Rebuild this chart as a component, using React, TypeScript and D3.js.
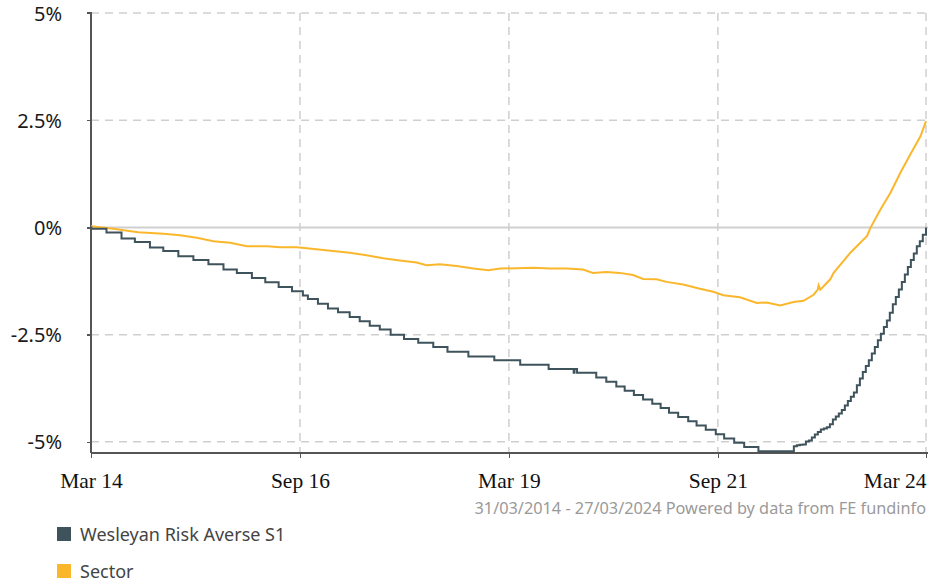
import React, { useEffect, useRef } from 'react';
import * as d3 from 'd3';

// Fund: step points [decimal year, % growth]
const FUND: [number, number][] = [
  [2014.245, 0], [2014.25, -0.03], [2014.43, -0.12], [2014.61, -0.26], [2014.77, -0.34],
  [2014.95, -0.47], [2015.11, -0.55], [2015.29, -0.67], [2015.47, -0.76], [2015.65, -0.86],
  [2015.83, -0.98], [2015.99, -1.06], [2016.17, -1.18], [2016.33, -1.28], [2016.49, -1.39],
  [2016.65, -1.49], [2016.78, -1.59], [2016.84, -1.67], [2016.96, -1.78], [2017.08, -1.89],
  [2017.2, -1.98], [2017.34, -2.09], [2017.46, -2.19], [2017.58, -2.29], [2017.7, -2.38],
  [2017.83, -2.5], [2017.99, -2.6], [2018.16, -2.69], [2018.34, -2.79], [2018.51, -2.9],
  [2018.76, -3.01], [2019.07, -3.1], [2019.38, -3.2], [2019.72, -3.3], [2020.02, -3.39],
  [2020.03, -3.3], [2020.06, -3.39], [2020.29, -3.5], [2020.41, -3.6], [2020.53, -3.71],
  [2020.63, -3.81], [2020.74, -3.91], [2020.85, -4.01], [2020.96, -4.11], [2021.06, -4.21],
  [2021.16, -4.32], [2021.27, -4.42], [2021.39, -4.52], [2021.49, -4.62], [2021.6, -4.72],
  [2021.72, -4.82], [2021.82, -4.92], [2021.94, -5.02], [2022.06, -5.12], [2022.23, -5.22],
  [2022.654, -5.1], [2022.69, -5.08], [2022.726, -5.07], [2022.762, -5.06], [2022.798, -4.99],
  [2022.834, -4.97], [2022.869, -4.9], [2022.905, -4.83], [2022.941, -4.77], [2022.977, -4.71],
  [2023.013, -4.69], [2023.049, -4.66], [2023.085, -4.59], [2023.121, -4.48], [2023.156, -4.41],
  [2023.192, -4.34], [2023.228, -4.26], [2023.264, -4.15], [2023.3, -4.05], [2023.336, -3.95],
  [2023.372, -3.85], [2023.408, -3.68], [2023.444, -3.52], [2023.479, -3.37], [2023.515, -3.23],
  [2023.551, -3.1], [2023.587, -2.94], [2023.623, -2.79], [2023.659, -2.63], [2023.695, -2.48],
  [2023.731, -2.32], [2023.767, -2.17], [2023.802, -1.99], [2023.838, -1.79], [2023.874, -1.62],
  [2023.91, -1.45], [2023.946, -1.27], [2023.982, -1.1], [2024.018, -0.92], [2024.054, -0.76],
  [2024.089, -0.61], [2024.125, -0.44], [2024.161, -0.32], [2024.197, -0.17], [2024.235, 0.0],
];

// Sector average: [decimal year, % growth]
const SECTOR: [number, number][] = [
  [2014.245, 0.03], [2014.51, -0.03], [2014.81, -0.11], [2015.11, -0.15], [2015.31, -0.18],
  [2015.51, -0.24], [2015.71, -0.32], [2015.91, -0.36], [2016.11, -0.44], [2016.35, -0.44],
  [2016.51, -0.46], [2016.71, -0.46], [2016.94, -0.51], [2017.14, -0.55], [2017.34, -0.59],
  [2017.54, -0.65], [2017.74, -0.72], [2017.94, -0.77], [2018.14, -0.82], [2018.26, -0.88],
  [2018.42, -0.86], [2018.62, -0.9], [2018.82, -0.96], [2019.0, -1.0], [2019.14, -0.96],
  [2019.34, -0.95], [2019.54, -0.94], [2019.74, -0.96], [2019.94, -0.96], [2020.13, -0.98],
  [2020.25, -1.06], [2020.41, -1.04], [2020.57, -1.06], [2020.73, -1.11], [2020.85, -1.2],
  [2021.01, -1.21], [2021.13, -1.27], [2021.33, -1.33], [2021.53, -1.43], [2021.69, -1.5],
  [2021.81, -1.58], [2022.01, -1.63], [2022.21, -1.76], [2022.33, -1.75], [2022.49, -1.82],
  [2022.65, -1.74], [2022.77, -1.71], [2022.89, -1.57], [2022.94, -1.45], [2022.95, -1.35],
  [2022.97, -1.45], [2023.09, -1.21], [2023.13, -1.06], [2023.33, -0.59], [2023.53, -0.2],
  [2023.57, -0.01], [2023.69, 0.42], [2023.81, 0.81], [2023.93, 1.28], [2024.05, 1.71],
  [2024.17, 2.13], [2024.235, 2.48],
];

const Y_TICKS = [5, 2.5, 0, -2.5, -5];
const X_TICKS: [number, string][] = [
  [2014.245, 'Mar 14'], [2016.745, 'Sep 16'], [2019.245, 'Mar 19'], [2021.745, 'Sep 21'], [2024.235, 'Mar 24'],
];
const LEGEND = [
  { name: 'Wesleyan Risk Averse S1', color: '#3e535b' },
  { name: 'Sector', color: '#fbb72c' },
];

const App: React.FC = () => {
  const svgRef = useRef<SVGSVGElement>(null);

  useEffect(() => {
    if (!svgRef.current) return;
    const svg = d3.select(svgRef.current);
    svg.selectAll('*').remove();

    const left = 91, right = 926, top = 13, bottom = 453;
    const x = d3.scaleLinear().domain([2014.245, 2024.235]).range([left, right]);
    const y = d3.scaleLinear().domain([-5.26, 5]).range([bottom, top]);

    // grid
    const grid = svg.append('g');
    grid.selectAll('line.h')
      .data(Y_TICKS)
      .enter().append('line')
      .attr('x1', left).attr('x2', 928)
      .attr('y1', d => y(d)).attr('y2', d => y(d))
      .attr('stroke', '#cfcfcf')
      .attr('stroke-width', d => (d === 0 ? 2 : 1.5))
      .attr('stroke-dasharray', d => (d === 0 ? null : '8,6'));
    grid.selectAll('line.v')
      .data(X_TICKS.slice(1))
      .enter().append('line')
      .attr('x1', d => x(d[0])).attr('x2', d => x(d[0]))
      .attr('y1', top).attr('y2', bottom)
      .attr('stroke', '#cfcfcf')
      .attr('stroke-width', 1.5)
      .attr('stroke-dasharray', '8,6');

    // y axis
    const yAxis = svg.append('g')
      .attr('transform', `translate(${left},0)`)
      .call(d3.axisLeft(y).tickValues(Y_TICKS).tickSize(4).tickFormat(d => `${d}%`));
    yAxis.select('.domain').attr('stroke', '#555').attr('stroke-width', 1.5)
      .attr('d', `M-4,${top}H0V${bottom}`);
    yAxis.selectAll('.tick line').attr('stroke', '#555').attr('stroke-width', 1.5);
    yAxis.selectAll('.tick text')
      .attr('x', -29)
      .attr('dy', '0.35em')
      .attr('fill', '#1a1a1a')
      .style('font-family', '"Noto Sans", sans-serif')
      .style('font-size', '20px');

    // x axis
    const xAxis = svg.append('g')
      .attr('transform', `translate(0,${bottom})`)
      .call(d3.axisBottom(x).tickValues(X_TICKS.map(d => d[0])).tickSize(5)
        .tickFormat((_, i) => X_TICKS[i][1]));
    xAxis.select('.domain').attr('stroke', '#555').attr('stroke-width', 1.5)
      .attr('d', `M${left},0H928`);
    xAxis.selectAll('.tick line').attr('stroke', '#555').attr('stroke-width', 1.5);
    xAxis.selectAll('.tick text')
      .attr('y', 35)
      .attr('dy', 0)
      .attr('fill', '#111')
      .attr('text-anchor', (_, i) => (i === X_TICKS.length - 1 ? 'end' : 'middle'))
      .attr('x', (_, i) => (i === X_TICKS.length - 1 ? 0 : 0))
      .style('font-family', '"Liberation Serif", serif')
      .style('font-size', '21.5px');

    svg.selectAll('.domain, .tick line').attr('shape-rendering', 'crispEdges');

    // lines (on top of axes)
    const line = d3.line<[number, number]>()
      .x(d => x(d[0]))
      .y(d => y(d[1]));

    svg.append('path')
      .datum(SECTOR)
      .attr('d', line.curve(d3.curveLinear))
      .attr('fill', 'none')
      .attr('stroke', '#fbb72c')
      .attr('stroke-width', 2);

    svg.append('path')
      .datum(FUND)
      .attr('d', line.curve(d3.curveStepAfter))
      .attr('fill', 'none')
      .attr('stroke', '#3e535b')
      .attr('stroke-width', 2);

    // footer
    svg.append('text')
      .attr('x', 926).attr('y', 514)
      .attr('text-anchor', 'end')
      .attr('fill', '#9a9a9a')
      .style('font-family', '"Noto Sans", sans-serif')
      .style('font-size', '16.3px')
      .text('31/03/2014 - 27/03/2024 Powered by data from FE fundinfo');

    // legend
    const lg = svg.append('g')
      .selectAll('g')
      .data(LEGEND)
      .enter().append('g')
      .attr('transform', (_, i) => `translate(57,${527 + i * 37})`);
    lg.append('rect').attr('width', 14).attr('height', 14).attr('fill', d => d.color);
    lg.append('text')
      .attr('x', 23).attr('y', 14)
      .attr('fill', '#444')
      .style('font-family', '"Noto Sans", sans-serif')
      .style('font-size', '18px')
      .text(d => d.name);
  }, []);

  return (
    <svg
      ref={svgRef}
      width={929}
      height={587}
      style={{ position: 'absolute', left: 0, top: 0, background: '#fff' }}
    />
  );
};

export default App;
